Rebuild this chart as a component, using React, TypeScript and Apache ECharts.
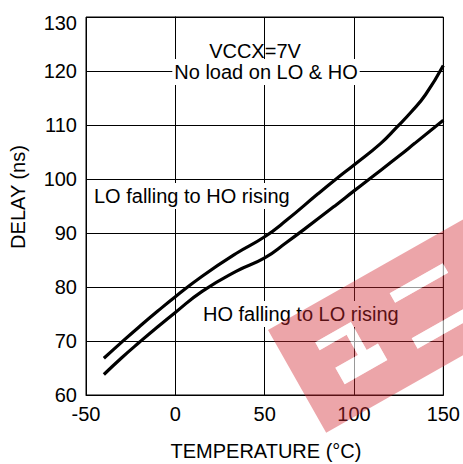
import React, { useEffect, useRef } from "react";
import * as echarts from "echarts";

// Temperature (°C) and delay (ns) readings
const tempLoFalling = [-40, -30, -20, -10, 0, 15, 34, 50, 62, 80, 90, 100, 115, 124, 132, 140, 150];
const delayLoFalling = [66.8, 69.8, 72.7, 75.5, 78.2, 82.0, 86.2, 89.3, 92.3, 97.3, 100.0, 102.6, 106.6, 109.6, 112.4, 115.6, 121.0];

const tempHoFalling = [-40, -30, -20, -10, 0, 15, 34, 50, 62, 73, 90, 100, 109, 125, 134, 150];
const delayHoFalling = [63.8, 66.9, 69.8, 72.6, 75.3, 79.2, 82.9, 85.4, 88.2, 90.9, 95.2, 97.8, 100.1, 104.2, 106.6, 110.9];

const xLabels = [-50, 0, 50, 100, 150];
const yLabels = [60, 70, 80, 90, 100, 110, 120, 130];

const FONT = "'Liberation Sans', Arial, Helvetica, sans-serif";

const CUTS =
  "M35 34 V43 H66 V66 H40 V85 H89 V66 H76 V34 Z " +
  "M124 28 V39 H185 V28 Z " +
  "M121 78 V90 H230 V78 Z";
const BAND_D = "M0 0 H330 V118 H0 Z " + CUTS;

let registered = false;
function ensureShapes() {
  if (registered) return;
  echarts.graphic.registerShape("logo", echarts.graphic.extendPath(BAND_D, {}));
  echarts.graphic.registerShape("logoCut", echarts.graphic.extendPath(CUTS, {}));
  registered = true;
}

export default function App() {
  const ref = useRef<HTMLDivElement>(null);

  useEffect(() => {
    if (!ref.current) return;
    ensureShapes();
    const chart = echarts.init(ref.current, undefined, { renderer: "svg" });
    const txt = (text: string, x: number, y: number, align: string, extra: any = {}) => ({
      type: "text",
      x,
      y,
      z: 50,
      silent: true,
      ...extra,
      style: {
        text,
        fontSize: 20,
        fontFamily: FONT,
        fill: "#000",
        align,
        verticalAlign: "middle",
        ...(extra.style || {}),
      },
    });
    chart.setOption({
      animation: false,
      backgroundColor: "#fff",
      grid: {
        left: 86,
        right: 18,
        top: 17,
        bottom: 69,
        show: true,
        borderColor: "#000",
        borderWidth: 1,
        backgroundColor: "transparent",
      },
      xAxis: {
        type: "value",
        min: xLabels[0],
        max: xLabels[xLabels.length - 1],
        interval: 50,
        axisLine: { show: true, lineStyle: { color: "#000", width: 1 } },
        axisTick: { show: false },
        splitLine: { show: true, lineStyle: { color: "#000", width: 1 } },
        axisLabel: { fontSize: 20, fontFamily: FONT, color: "#000", margin: 9 },
      },
      yAxis: {
        type: "value",
        min: yLabels[0],
        max: yLabels[yLabels.length - 1],
        interval: 10,
        axisLine: { show: true, lineStyle: { color: "#000", width: 1 } },
        axisTick: { show: false },
        splitLine: { show: true, lineStyle: { color: "#000", width: 1 } },
        axisLabel: {
          fontSize: 20,
          fontFamily: FONT,
          color: "#000",
          margin: 9,
          formatter: (v: number) => (v === 130 ? "{t|130}" : String(v)),
          rich: { t: { fontSize: 20, fontFamily: FONT, color: "#000", padding: [12, 0, 0, 0] } },
        },
      },
      series: [
        {
          name: "LO falling to HO rising",
          type: "line",
          smooth: 0.5,
          symbol: "none",
          lineStyle: { color: "#000", width: 3.2 },
          data: tempLoFalling.map((t, i) => [t, delayLoFalling[i]]),
          z: 10,
        },
        {
          name: "HO falling to LO rising",
          type: "line",
          smooth: 0.5,
          symbol: "none",
          lineStyle: { color: "#000", width: 3.2 },
          data: tempHoFalling.map((t, i) => [t, delayHoFalling[i]]),
          z: 10,
        },
      ],
      graphic: [
        txt("VCCX=7V", 255, 51, "center"),
        txt("No load on LO & HO", 266, 72, "center", {
          style: { backgroundColor: "#fff", padding: [3, 2, 3, 2] },
        }),
        txt("LO falling to HO rising", 92, 196, "left", {
          style: { backgroundColor: "#fff", padding: [3, 2, 3, 2] },
        }),
        txt("HO falling to LO rising", 201, 314, "left", {
          style: { backgroundColor: "#fff", padding: [3, 2, 3, 2] },
        }),
        txt("TEMPERATURE (°C)", 266, 451, "center"),
        txt("DELAY (ns)", 18, 197, "center", { rotation: Math.PI / 2 }),
        {
          type: "logo",
          x: 268,
          y: 330,
          rotation: 0.515,
          z: 100,
          silent: true,
          style: { fill: "rgba(210,40,50,0.42)" },
        },
        {
          type: "logoCut",
          x: 268,
          y: 330,
          rotation: 0.515,
          z: 101,
          silent: true,
          style: { fill: "rgba(255,255,255,0.6)" },
        },
      ],
    });
    return () => chart.dispose();
  }, []);

  return (
    <div
      ref={ref}
      style={{ position: "fixed", left: 0, top: 0, width: 463, height: 464, background: "#fff" }}
    />
  );
}
